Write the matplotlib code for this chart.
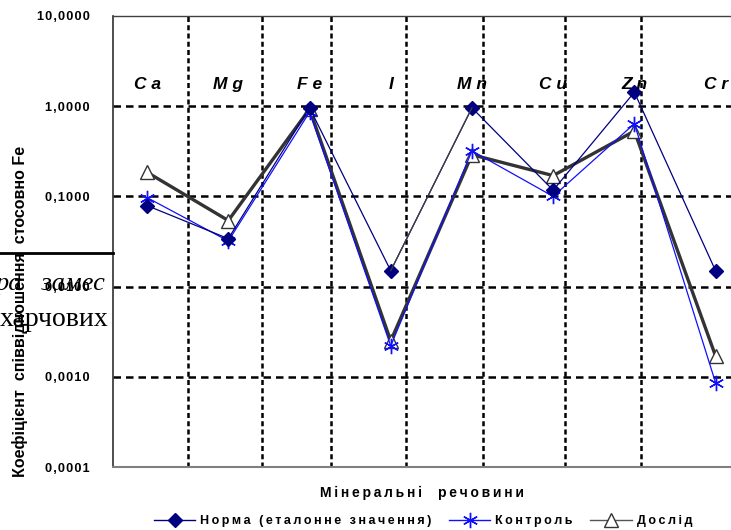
import matplotlib.pyplot as plt
from matplotlib.patches import Rectangle
from matplotlib.ticker import FixedLocator, FuncFormatter

# DATA

elementy = ["C a", "M g", "F e", "I", "M n", "C u", "Z n", "C r"]

norma = [0.079, 0.034, 0.96, 0.015, 0.96, 0.117, 1.43, 0.015]
kontrol = [0.097, 0.032, 0.86, 0.0022, 0.32, 0.100, 0.64, 0.00086]
doslid = [0.185, 0.054, 0.93, 0.0025, 0.29, 0.170, 0.53, 0.0017]

y_ticks = [0.0001, 0.001, 0.01, 0.1, 1, 10]
y_tick_labels = ["0,0001", "0,0010", "0,0100", "0,1000", "1,0000", "10,0000"]

# vertical separators (as in the scanned Excel chart)
separatory = [0.50, 1.42, 2.27, 3.19, 4.14, 5.14, 6.08]

x = list(range(len(elementy)))


# letter spacing like in Excel
def rozryadka(s, sp="\u2009"):
    return sp.join(s)


# FIGURE

plt.rcParams["font.family"] = ["Liberation Sans", "DejaVu Sans"]

fig = plt.figure(figsize=(7.31, 5.30), dpi=100)
ax = fig.add_axes([113 / 731, 63 / 530, 618 / 731, 451 / 530])

ax.set_yscale("log")
ax.set_ylim(0.0001, 10)
ax.set_xlim(-0.42, 7.19)

# gridlines
for yv in [0.001, 0.01, 0.1, 1]:
    ax.axhline(yv, color="black", lw=1.8, ls=(0, (3, 2)), zorder=1)
for xv in separatory:
    ax.axvline(xv, color="black", lw=1.8, ls=(0, (2, 1.3)), zorder=1)

# series
ax.plot(x, doslid, color="#333333", lw=2.4, marker="^", ms=10,
        mfc="white", mec="#333333", mew=1.0, zorder=3)
ax.plot(x, kontrol, color="#1010ff", lw=0.9, marker=(6, 2, 0), ms=11,
        mec="#1010ff", mew=1.0, zorder=4)
ax.plot(x, norma, color="#000080", lw=0.9, marker="D", ms=7,
        mfc="#000080", mec="#000080", zorder=5)
# segment I -> Mn of norma is drawn grey in the original
ax.plot(x[3:5], norma[3:5], color="#404040", lw=0.9, zorder=5)

# category labels inside the plot
for i, el in enumerate(elementy):
    ax.text(i, 1.75, el, ha="center", va="center", fontsize=12.5,
            fontweight="bold", style="italic", zorder=6)

# axes styling
ax.yaxis.set_major_locator(FixedLocator(y_ticks))
ax.yaxis.set_major_formatter(FuncFormatter(
    lambda v, p: rozryadka(y_tick_labels[y_ticks.index(
        min(y_ticks, key=lambda t: abs(t - v)))], "\u200a")))
ax.yaxis.set_minor_locator(FixedLocator([]))
ax.tick_params(axis="y", length=0, pad=17, labelsize=9.2)
for lab in ax.get_yticklabels():
    lab.set_fontweight("bold")
ax.set_xticks([])

ax.spines["right"].set_visible(False)
ax.spines["left"].set_color("#303030")
ax.spines["top"].set_color("#404040")
ax.spines["bottom"].set_color("#808080")
ax.spines["left"].set_linewidth(1.2)
ax.spines["top"].set_linewidth(1.0)
ax.spines["bottom"].set_linewidth(1.5)

# scanned page fragments on the left
clip = Rectangle((0, 0), 112 / 731, 1, transform=fig.transFigure)
fig.add_artist(plt.Line2D([0, 113 / 731], [1 - 253 / 530, 1 - 253 / 530],
                          color="black", lw=2, transform=fig.transFigure))
t1 = fig.text(-4 / 731, 1 - 290 / 530, "ра   замес", family="Liberation Serif",
              style="italic", fontsize=19, va="baseline", ha="left")
t1.set_clip_path(clip)
t2 = fig.text(0, 1 - 326 / 530, "харчових", family="Liberation Serif",
              fontsize=20, va="baseline", ha="left")
t2.set_clip_path(clip)

# axis titles
fig.text(20 / 731, 1 - 311 / 530, "Коефіцієнт  співвідношення  стосовно Fe",
         rotation=90, ha="center", va="center", fontsize=11.5, fontweight="bold")
fig.text(422 / 731, 1 - 493 / 530, rozryadka("Мінеральні  речовини"),
         ha="center", va="center", fontsize=10, fontweight="bold")

# legend
h_norma = plt.Line2D([], [], color="#000080", lw=1.0, marker="D", ms=7,
                     mfc="#000080", mec="#000080")
h_kontrol = plt.Line2D([], [], color="#1010ff", lw=1.0, marker=(6, 2, 0), ms=11,
                       mec="#1010ff")
h_doslid = plt.Line2D([], [], color="#555555", lw=1.0, marker="^", ms=10,
                      mfc="white", mec="#333333")
leg = fig.legend([h_norma, h_kontrol, h_doslid],
                 [rozryadka("Норма (еталонне значення)"), rozryadka("Контроль"),
                  rozryadka("Дослід")],
                 loc="center", bbox_to_anchor=(423 / 731, 1 - 521 / 530),
                 ncol=3, frameon=False, handlelength=3.3, handletextpad=0.4,
                 columnspacing=1.4, prop={"weight": "bold", "size": 9})

plt.savefig("out.png", dpi=100)
